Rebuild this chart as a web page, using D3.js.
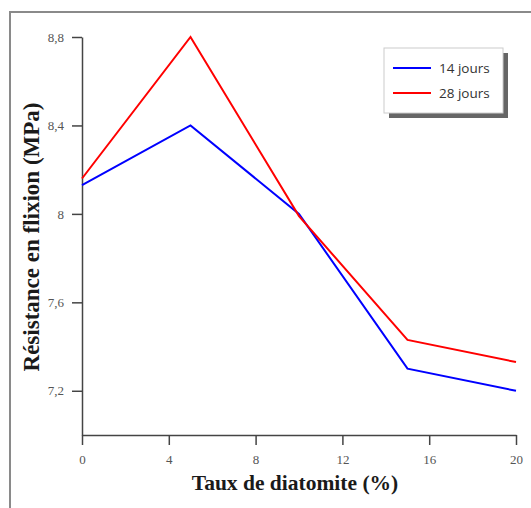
<!DOCTYPE html>
<html><head><meta charset="utf-8">
<script src="https://cdn.jsdelivr.net/npm/d3@7"></script>
<style>body{margin:0;background:#fff}svg{display:block}</style>
</head><body>
<script>
const xValues = [0, 5, 10, 15, 20];
const series14 = [8.13, 8.40, 8.00, 7.30, 7.20];
const series28 = [8.16, 8.80, 7.99, 7.43, 7.33];
const seriesNames = ["14 jours", "28 jours"];
const seriesColors = ["#0000ff", "#ff0000"];
const xTicks = [0, 4, 8, 12, 16, 20];
const yTicks = [7.2, 7.6, 8.0, 8.4, 8.8];
const yTickLabels = ["7,2", "7,6", "8", "8,4", "8,8"];

const W = 531, H = 508;
const svg = d3.select("body").append("svg").attr("width", W).attr("height", H);

// outer frame
svg.append("path").attr("d", `M10,${H} L10,12 L${W},12`)
  .attr("fill", "none").attr("stroke", "#8a8a8a").attr("stroke-width", 2);

const x = d3.scaleLinear().domain([0, 20]).range([82, 516]);
const y = d3.scaleLinear().domain([7.0, 8.8]).range([435, 37]);

const axisColor = "#444";
// y axis
const gy = svg.append("g").attr("transform", "translate(82,0)")
  .call(d3.axisLeft(y).tickValues(yTicks).tickSize(10).tickPadding(8)
    .tickFormat((d, i) => yTickLabels[i]).tickSizeOuter(0));
gy.select(".domain").attr("stroke", axisColor).attr("stroke-width", 1.5);
gy.selectAll(".tick line").attr("stroke", axisColor).attr("stroke-width", 1.5);
gy.selectAll(".tick text").attr("font-family", "Liberation Serif, Times New Roman, serif")
  .attr("font-size", 13).attr("fill", "#555");

// x axis
const gx = svg.append("g").attr("transform", "translate(0,435)")
  .call(d3.axisBottom(x).tickValues(xTicks).tickSize(10).tickPadding(10).tickSizeOuter(0));
gx.select(".domain").attr("stroke", axisColor).attr("stroke-width", 1.5);
gx.selectAll(".tick line").attr("stroke", axisColor).attr("stroke-width", 1.5);
gx.selectAll(".tick text").attr("font-family", "Liberation Serif, Times New Roman, serif")
  .attr("font-size", 13).attr("fill", "#555");

// lines
const line = d3.line().x((d, i) => x(xValues[i])).y(d => y(d));
[series14, series28].forEach((s, k) => {
  svg.append("path").datum(s).attr("d", line).attr("fill", "none")
    .attr("stroke", seriesColors[k]).attr("stroke-width", 2);
});

// titles
svg.append("text").attr("x", 295).attr("y", 490).attr("text-anchor", "middle")
  .attr("font-family", "Liberation Serif, Times New Roman, serif").attr("font-weight", "bold")
  .attr("font-size", 21.5).attr("fill", "#1a1a1a").text("Taux de diatomite (%)");
svg.append("text").attr("transform", "translate(39,237) rotate(-90)").attr("text-anchor", "middle")
  .attr("font-family", "Liberation Serif, Times New Roman, serif").attr("font-weight", "bold")
  .attr("font-size", 23).attr("fill", "#1a1a1a").text("Résistance en flixion (MPa)");

// legend
const lg = svg.append("g");
lg.append("rect").attr("x", 389).attr("y", 53).attr("width", 119).attr("height", 65).attr("fill", "#666");
lg.append("rect").attr("x", 384).attr("y", 48).attr("width", 119).attr("height", 65)
  .attr("fill", "#fff").attr("stroke", "#ccc").attr("stroke-width", 1);
seriesNames.forEach((n, i) => {
  const yy = 68 + i * 25;
  lg.append("line").attr("x1", 393).attr("x2", 431).attr("y1", yy).attr("y2", yy)
    .attr("stroke", seriesColors[i]).attr("stroke-width", 2);
  lg.append("text").attr("x", 439).attr("y", yy + 5).attr("font-family", "Open Sans, Liberation Sans, sans-serif")
    .attr("font-size", 13.5).attr("fill", "#333").text(n);
});
</script>
</body></html>
